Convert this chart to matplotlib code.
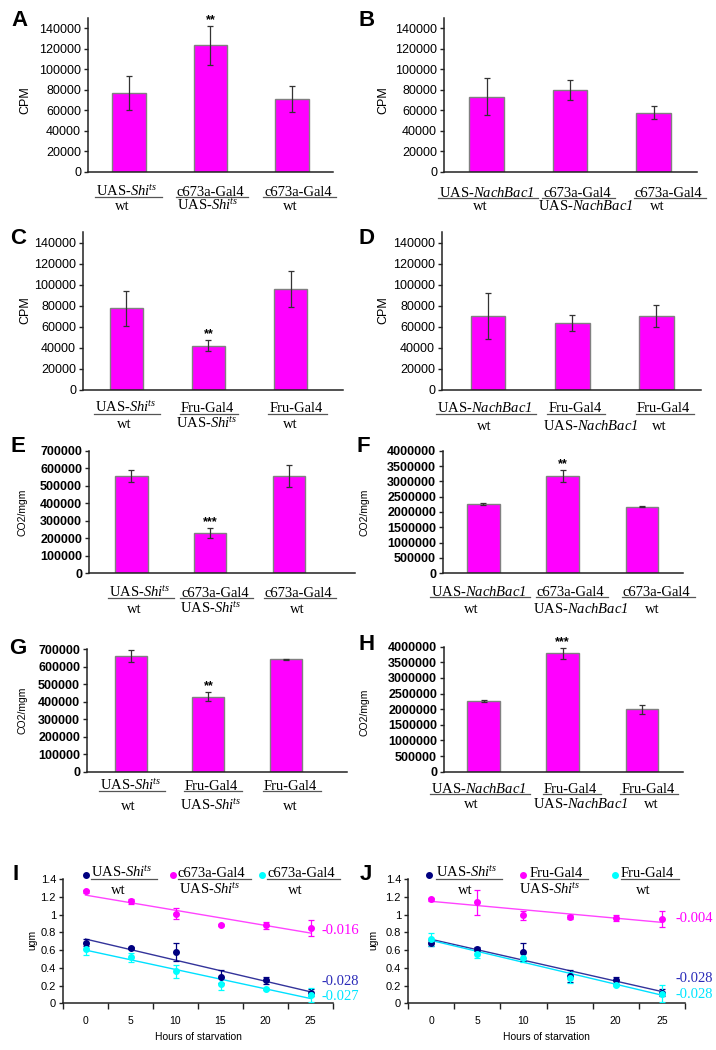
import numpy as np
import matplotlib
matplotlib.use("Agg")
import matplotlib.pyplot as plt
import matplotlib.transforms as mtransforms
from matplotlib.lines import Line2D

plt.rcParams['font.family'] = ['Liberation Sans', 'DejaVu Sans']
plt.rcParams['mathtext.fontset'] = 'custom'
plt.rcParams['mathtext.rm'] = 'Liberation Serif'
plt.rcParams['mathtext.it'] = 'Liberation Serif:italic'
plt.rcParams['mathtext.sf'] = 'Liberation Serif:italic'
plt.rcParams['mathtext.bf'] = 'Liberation Serif:bold'

W, H = 716, 1050
fig = plt.figure(figsize=(W / 100, H / 100), dpi=100)

SHI = r"UAS-$\mathsf{Shi}^{\mathsf{ts}}$"
NB = r"UAS-$\mathsf{NachBac1}$"

# ---------------- data ----------------
labels_A = [(SHI, "wt"), ("c673a-Gal4", SHI), ("c673a-Gal4", "wt")]
labels_B = [(NB, "wt"), ("c673a-Gal4", NB), ("c673a-Gal4", "wt")]
labels_C = [(SHI, "wt"), ("Fru-Gal4", SHI), ("Fru-Gal4", "wt")]
labels_D = [(NB, "wt"), ("Fru-Gal4", NB), ("Fru-Gal4", "wt")]

vals_A = [77200, 123500, 70700]
err_A = [16500, 19000, 12700]
vals_B = [73400, 79800, 57700]
err_B = [18000, 10000, 6000]
vals_C = [77600, 42200, 96000]
err_C = [16500, 5200, 17100]
vals_D = [70400, 63400, 70400]
err_D = [21700, 7700, 10500]
vals_E = [557000, 230000, 557000]
err_E = [33000, 29000, 64000]
vals_F = [2261000, 3174000, 2174000]
err_F = [40000, 195000, 25000]
vals_G = [660000, 428000, 641000]
err_G = [33000, 25000, 3000]
vals_H = [2260000, 3790000, 1994000]
err_H = [20000, 175000, 140000]

stars_A = {1: "**"}
stars_B = {}
stars_C = {1: "**"}
stars_D = {}
stars_E = {1: "***"}
stars_F = {1: "**"}
stars_G = {1: "**"}
stars_H = {1: "***"}

hours = [0, 5, 10, 15, 20, 25]
I_navy = [0.68, 0.62, 0.58, 0.30, 0.26, 0.12]
I_navy_err = [0.04, 0.01, 0.10, 0.07, 0.04, 0.04]
I_mag = [1.26, 1.15, 1.01, 0.88, 0.88, 0.85]
I_mag_err = [0.02, 0.03, 0.06, 0.01, 0.04, 0.09]
I_cyan = [0.61, 0.52, 0.36, 0.22, 0.16, 0.09]
I_cyan_err = [0.07, 0.05, 0.07, 0.07, 0.01, 0.08]
I_slopes = ["-0.016", "-0.028", "-0.027"]

J_navy = [0.68, 0.61, 0.58, 0.31, 0.26, 0.12]
J_navy_err = [0.03, 0.02, 0.10, 0.07, 0.04, 0.04]
J_mag = [1.17, 1.14, 0.99, 0.97, 0.96, 0.95]
J_mag_err = [0.02, 0.14, 0.05, 0.02, 0.03, 0.09]
J_cyan = [0.72, 0.56, 0.51, 0.29, 0.21, 0.11]
J_cyan_err = [0.07, 0.05, 0.04, 0.06, 0.02, 0.10]
J_slopes = ["-0.004", "-0.028", "-0.028"]

legend_I = [(SHI, "wt"), ("c673a-Gal4", SHI), ("c673a-Gal4", "wt")]
legend_J = [(SHI, "wt"), ("Fru-Gal4", SHI), ("Fru-Gal4", "wt")]

# label x-offsets in pixels (line1, line2) per category -- layout only
off_A = [(-2, -7), (0, -3), (6, -2)]
off_B = [(0, -6), (7, 16), (15, 4)]
off_C = [(-1, -2.5), (-1, -2), (5.5, 0)]
off_D = [(-4, -4), (2.5, 18), (7, 3)]
off_E = [(8, 3), (5, 1), (9.5, 8)]
off_F = [(-5, -12), (8, 18), (15, 10)]
off_G = [(0, -2), (3, 2.5), (4, 4)]
off_H = [(-5, -12), (8, 18), (6, 9)]

# ---------------- helpers ----------------
MAG = "#ff00ff"
NAVY = "#000080"
CYAN = "#00ffff"
underlines = []  # (text artist, pad_left, pad_right, underline_px)


def rect(l, t, r, b):
    return [l / W, 1 - b / H, (r - l) / W, (b - t) / H]


def fy(y):
    return 1 - y / H


def fx(x):
    return x / W


def style_axes(ax, lab_size=9):
    for s in ["top", "right"]:
        ax.spines[s].set_visible(False)
    for s in ["left", "bottom"]:
        ax.spines[s].set_linewidth(1.1)
        ax.spines[s].set_color("#222222")
    ax.tick_params(axis="y", direction="out", length=3, width=1, color="#222222",
                   labelsize=lab_size, pad=2)


def bar_panel(box, xlim, ylim, yticks, vals, errs, labels, offs, stars, ylabel, ylab_xy,
              ylab_size, letter, letter_xy, base1, base2, bold=False, tick_size=9):
    l, t, r, b = box
    weight = "bold" if bold else "normal"
    with plt.rc_context({"font.weight": weight}):
        ax = fig.add_axes(rect(l, t, r, b))
        x = np.arange(len(vals))
        ax.bar(x, vals, width=0.41, color=MAG, edgecolor="#808080", linewidth=1.0,
               zorder=2)
        ax.errorbar(x, vals, yerr=errs, fmt="none", ecolor="#333333", elinewidth=0.9,
                    capsize=2.5, capthick=0.9, zorder=3)
        ax.set_xlim(*xlim)
        ax.set_ylim(*ylim)
        ax.set_yticks(yticks)
        ax.set_yticklabels([f"{v:d}" for v in yticks], fontweight=weight)
        ax.set_xticks([])
        style_axes(ax, lab_size=tick_size)
        for tl in ax.yaxis.get_majorticklabels():
            tl.set_fontweight(weight)
    for i, s in stars.items():
        ax.annotate(s, (i, vals[i] + errs[i]), xytext=(0, 0), textcoords="offset points",
                    ha="center", va="bottom", fontsize=9, fontweight="bold")
    for i, ((l1, l2), (o1, o2)) in enumerate(zip(labels, offs)):
        tr1 = ax.transData + mtransforms.Affine2D().translate(o1, 0)
        tr2 = ax.transData + mtransforms.Affine2D().translate(o2, 0)
        b1 = mtransforms.blended_transform_factory(tr1, fig.transFigure)
        b2 = mtransforms.blended_transform_factory(tr2, fig.transFigure)
        t1 = ax.text(i, fy(b + base1), l1, transform=b1, ha="center", va="baseline",
                     fontsize=10.5, family="Liberation Serif", fontweight="normal")
        ax.text(i, fy(b + base2), l2, transform=b2, ha="center", va="baseline",
                fontsize=10.5, family="Liberation Serif", fontweight="normal")
        underlines.append((t1, 1, 4, b + base1 + 1.2))
    fig.text(fx(ylab_xy[0]), fy(ylab_xy[1]), ylabel, rotation=90, ha="center",
             va="center", fontsize=ylab_size, fontweight="normal")
    fig.text(fx(letter_xy[0]), fy(letter_xy[1]), letter, ha="center", va="center",
             fontsize=16, fontweight="bold")
    return ax


cpm_ticks = list(range(0, 140001, 20000))
e_ticks = list(range(0, 700001, 100000))
f_ticks = list(range(0, 4000001, 500000))

bar_panel((88, 18.1, 333, 171.7), (-0.5, 2.5), (0, 150000), cpm_ticks, vals_A, err_A,
          labels_A, off_A, stars_A, "CPM", (25, 100), 9, "A", (20, 20), 24, 38)
bar_panel((444, 18.1, 697, 171.7), (-0.51, 2.52), (0, 150000), cpm_ticks, vals_B, err_B,
          labels_B, off_B, stars_B, "CPM", (383, 100), 9, "B", (367, 20), 25.5, 38.5)
bar_panel((83, 232, 343, 390), (-0.53, 2.64), (0, 150000), cpm_ticks, vals_C, err_C,
          labels_C, off_C, stars_C, "CPM", (25, 310), 9, "C", (18, 238), 22.3, 38.3)
bar_panel((442, 232, 701, 390), (-0.55, 2.53), (0, 150000), cpm_ticks, vals_D, err_D,
          labels_D, off_D, stars_D, "CPM", (383, 310), 9, "D", (367, 238), 22.3, 40)
bar_panel((89, 450.7, 355, 573.3), (-0.54, 2.84), (0, 700000), e_ticks, vals_E, err_E,
          labels_A, off_E, stars_E, "CO2/mgm", (23, 512), 7.5, "E", (18, 447), 23.4, 40,
          bold=True)
bar_panel((443, 450.7, 683, 573.3), (-0.51, 2.52), (0, 4000000), f_ticks, vals_F, err_F,
          labels_B, off_F, stars_F, "CO2/mgm", (365, 512), 7.5, "F", (363, 447), 22.7, 40,
          bold=True)
bar_panel((87, 649, 347, 771.7), (-0.56, 2.78), (0, 700000), e_ticks, vals_G, err_G,
          labels_C, off_G, stars_G, "CO2/mgm", (23, 710), 7.5, "G", (18, 649), 18.3, 38,
          bold=True)
bar_panel((444, 646.7, 683, 771.7), (-0.5, 2.52), (0, 4000000), f_ticks, vals_H, err_H,
          labels_D, off_H, stars_H, "CO2/mgm", (365, 712), 7.5, "H", (367, 645), 21, 36.6,
          bold=True)


def line_panel(box, series, slopes, slope_x, slope_ys, legend, legend_pos, ylab_x,
               letter, letter_xy, xlabel_x):
    l, t, r, b = box
    ax = fig.add_axes(rect(l, t, r, b))
    idx = np.arange(len(hours))
    slope_cols = [MAG, "#2a2ab8", "#00e5ff"]
    for (vals, errs, col, lcol) in series:
        ax.errorbar(idx, vals, yerr=errs, fmt="o", color=col, ms=4, ecolor=col,
                    elinewidth=0.9, capsize=2.5, capthick=0.9, zorder=3)
        k, c = np.polyfit(hours, vals, 1)
        ax.plot(idx, k * np.array(hours) + c, color=lcol, lw=1.0, zorder=2)
    ax.set_xlim(-0.5, len(hours) - 0.5)
    ax.set_ylim(0, 1.4)
    yt = [0, 0.2, 0.4, 0.6, 0.8, 1.0, 1.2, 1.4]
    ax.set_yticks(yt)
    ax.set_yticklabels([f"{v:g}" for v in yt])
    ax.set_xticks(np.arange(-0.5, len(hours)), minor=False)
    ax.set_xticklabels([])
    ax.set_xticks(idx, minor=True)
    ax.set_xticklabels([str(h) for h in hours], minor=True)
    style_axes(ax, lab_size=8)
    ax.tick_params(axis="x", which="major", direction="out", length=4, width=1,
                   color="#222222")
    ax.tick_params(axis="x", which="minor", length=0, labelsize=7.5, pad=9)
    fig.text(fx(xlabel_x), fy(1037), "Hours of starvation", ha="center", va="center",
             fontsize=7.5)
    fig.text(fx(ylab_x), fy(940), "ugm", rotation=90, ha="center", va="center",
             fontsize=7.5)
    fig.text(fx(letter_xy[0]), fy(letter_xy[1]), letter, ha="center", va="center",
             fontsize=16, fontweight="bold")
    for s, y, col in zip(slopes, slope_ys, slope_cols):
        fig.text(fx(slope_x), fy(y), s, ha="left", va="center", fontsize=10.5,
                 family="Liberation Serif", color=col)
    dot_cols = [NAVY, MAG, CYAN]
    for (l1, l2), (dx, tx, cx), col in zip(legend, legend_pos, dot_cols):
        fig.add_artist(Line2D([fx(dx)], [fy(874.5)], marker="o", ms=4, color=col,
                              transform=fig.transFigure))
        t1 = fig.text(fx(tx), fy(877), l1, ha="left", va="baseline", fontsize=10.5,
                      family="Liberation Serif")
        fig.text(fx(cx), fy(894.5), l2, ha="center", va="baseline", fontsize=10.5,
                 family="Liberation Serif")
        underlines.append((t1, 0, 5, 878.5))
    return ax


line_panel((63, 879, 333, 1003.3),
           [(I_navy, I_navy_err, NAVY, "#33339a"), (I_mag, I_mag_err, MAG, "#ff44ff"),
            (I_cyan, I_cyan_err, CYAN, "#00e0ff")],
           I_slopes, 322, [931, 981.7, 996.7], legend_I,
           [(86, 91, 118), (173, 178, 210), (262, 267, 295)], 32, "I", (16, 874), 198)
line_panel((408, 879, 685, 1003.3),
           [(J_navy, J_navy_err, NAVY, "#33339a"), (J_mag, J_mag_err, MAG, "#ff44ff"),
            (J_cyan, J_cyan_err, CYAN, "#00e0ff")],
           J_slopes, 675, [919, 979, 994], legend_J,
           [(429, 436, 465), (523, 530, 550), (615, 621, 643)], 373, "J", (366, 875), 546)

# underlines below first genotype line
fig.canvas.draw()
renderer = fig.canvas.get_renderer()
for t, pl, pr, ypx in underlines:
    bb = t.get_window_extent(renderer)
    fig.add_artist(Line2D([(bb.x0 - pl) / W, (bb.x1 + pr) / W], [fy(ypx), fy(ypx)],
                          color="#555555", lw=0.9, transform=fig.transFigure))

fig.savefig("out.png", dpi=100)
